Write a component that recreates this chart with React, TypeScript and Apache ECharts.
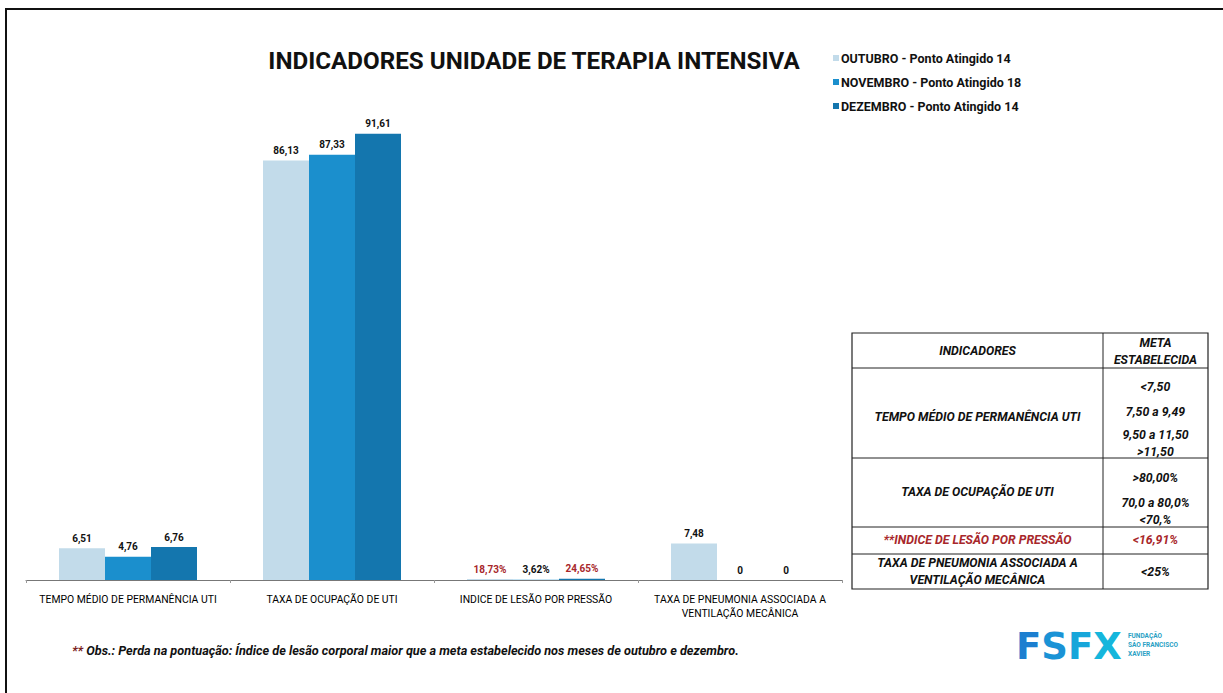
import React, { useEffect, useRef } from "react";
import * as echarts from "echarts";

const categories = [
  "TEMPO MÉDIO DE PERMANÊNCIA UTI",
  "TAXA DE OCUPAÇÃO DE UTI",
  "INDICE DE LESÃO POR PRESSÃO",
  "TAXA DE PNEUMONIA ASSOCIADA A\nVENTILAÇÃO MECÂNICA",
];
const seriesNames = [
  "OUTUBRO - Ponto Atingido 14",
  "NOVEMBRO - Ponto Atingido 18",
  "DEZEMBRO - Ponto Atingido 14",
];
// index 2 (pressure ulcer index) is a fraction shown as percent
const outubro = [6.51, 86.13, 0.1873, 7.48];
const novembro = [4.76, 87.33, 0.0362, 0];
const dezembro = [6.76, 91.61, 0.2465, 0];
const percentCategory = 2;
const redLabels = [[false, false, true, false], [false, false, false, false], [false, false, true, false]];

const tableRows = [
  { name: ["TEMPO MÉDIO DE PERMANÊNCIA UTI"], meta: ["<7,50", "7,50 a 9,49", "9,50 a 11,50", ">11,50"], red: false },
  { name: ["TAXA DE OCUPAÇÃO DE UTI"], meta: [">80,00%", "70,0 a 80,0%", "<70,%"], red: false },
  { name: ["**INDICE DE LESÃO POR PRESSÃO"], meta: ["<16,91%"], red: true },
  { name: ["TAXA DE PNEUMONIA ASSOCIADA A", "VENTILAÇÃO MECÂNICA"], meta: ["<25%"], red: false },
];

const colors = ["#c2dbea", "#1b8fcd", "#1476ae"];
const RED = "#a8272b";

function fmt(v: number, idx: number) {
  if (idx === percentCategory) return (v * 100).toFixed(2).replace(".", ",") + "%";
  if (v === 0) return "0";
  return v.toFixed(2).replace(".", ",");
}

export default function App() {
  const ref = useRef<HTMLDivElement>(null);
  useEffect(() => {
    document.body.style.margin = "0";
    const chart = echarts.init(ref.current!, null, { renderer: "svg" });
    const all = [outubro, novembro, dezembro];
    const series = all.map((arr, si) => ({
      name: seriesNames[si],
      type: "bar",
      barWidth: 46,
      barGap: "0%",
      itemStyle: { color: colors[si] },
      data: arr.map((v, i) => ({
        value: v,
        label: {
          color: redLabels[si][i] ? RED : "#111",
        },
      })),
      label: {
        show: true,
        position: "top",
        distance: 5,
        fontSize: 10,
        fontWeight: "bold",
        fontFamily: "Roboto",
        formatter: (p: any) => fmt(p.value, p.dataIndex),
      },
    }));

    const T = { x0: 852, x1: 1208, xm: 1103, ys: [333, 368, 458, 527, 554, 589] };
    const tf = "italic bold 12.3px Roboto";
    const gr: any[] = [];
    gr.push({ type: "line", shape: { x1: 5, y1: 9, x2: 1223, y2: 9 }, style: { stroke: "#111", lineWidth: 2 } });
    gr.push({ type: "line", shape: { x1: 6, y1: 8, x2: 6, y2: 693 }, style: { stroke: "#111", lineWidth: 2 } });
    gr.push({ type: "rect", shape: { x: T.x0, y: T.ys[0], width: T.x1 - T.x0, height: T.ys[5] - T.ys[0] }, style: { fill: "#fff", stroke: "#222", lineWidth: 1.2 } });
    gr.push({ type: "line", shape: { x1: T.xm, y1: T.ys[0], x2: T.xm, y2: T.ys[5] }, style: { stroke: "#222", lineWidth: 1 } });
    for (let i = 1; i < 5; i++) {
      gr.push({ type: "line", shape: { x1: T.x0, y1: T.ys[i], x2: T.x1, y2: T.ys[i] }, style: { stroke: "#222", lineWidth: 1 } });
    }
    const cL = (T.x0 + T.xm) / 2;
    const cR = (T.xm + T.x1) / 2;
    const txt = (x: number, y: number, s: string, color = "#111", font = tf) => ({
      type: "text", x, y, style: { text: s, font, fill: color, align: "center", verticalAlign: "middle" },
    });
    gr.push(txt(cL, 351, "INDICADORES"));
    gr.push(txt(cR, 343, "META"));
    gr.push(txt(cR, 360, "ESTABELECIDA"));
    const metaYs = [[387, 412, 435, 452], [478, 503, 520], [540], [572]];
    const nameYs = [[417], [492], [540], [563, 580]];
    tableRows.forEach((r, ri) => {
      const c = r.red ? RED : "#111";
      r.name.forEach((s, k) => gr.push(txt(cL, nameYs[ri][k], s, c)));
      r.meta.forEach((s, k) => gr.push(txt(cR, metaYs[ri][k], s, c)));
    });
    gr.push({
      type: "text", x: 72, y: 650,
      style: {
        text: "{r|**} Obs.: Perda na pontuação: Índice de lesão corporal maior que a meta estabelecido nos meses de outubro e dezembro.",
        font: "italic bold 12.7px Roboto", fill: "#111", align: "left", verticalAlign: "middle",
        rich: { r: { fill: "#7a1d20", font: "italic bold 12.7px Roboto" } },
      },
    });
    gr.push({
      type: "text", x: 1016, y: 646,
      style: {
        text: "{a|F}{b|S}{c|F}{d|X}", font: "bold 37px 'DejaVu Sans'", align: "left", verticalAlign: "middle",
        rich: {
          a: { fill: "#1c7fd0", font: "bold 37px 'DejaVu Sans'" },
          b: { fill: "#1a93d6", font: "bold 37px 'DejaVu Sans'" },
          c: { fill: "#17a6da", font: "bold 37px 'DejaVu Sans'" },
          d: { fill: "#15b6dc", font: "bold 37px 'DejaVu Sans'" },
        },
      },
    });
    ["FUNDAÇÃO", "SÃO FRANCISCO", "XAVIER"].forEach((s, i) => {
      gr.push({ type: "text", x: 1128, y: 636 + i * 9, style: { text: s, font: "bold 6.5px Roboto", fill: "#2a9fc4", align: "left", verticalAlign: "middle" } });
    });

    chart.setOption({
      animation: false,
      backgroundColor: "#fff",
      title: {
        text: "INDICADORES UNIDADE DE TERAPIA INTENSIVA",
        left: 529,
        textAlign: "center",
        top: 44,
        textStyle: { fontFamily: "Roboto", fontWeight: "bold", fontSize: 24.2, color: "#111" },
      },
      legend: {
        orient: "vertical",
        left: 828,
        top: 46,
        itemWidth: 6,
        itemHeight: 6,
        itemGap: 10,
        icon: "rect",
        textStyle: { fontFamily: "Roboto", fontWeight: "bold", fontSize: 12.5, color: "#111", lineHeight: 14, padding: [0, 0, 0, -3] },
        data: seriesNames,
      },
      grid: { left: 26, width: 816, top: 93, height: 487 },
      xAxis: {
        type: "category",
        data: categories,
        axisLine: { lineStyle: { color: "#777", width: 1 } },
        axisTick: { show: true, length: 3, lineStyle: { color: "#999" } },
        axisLabel: { interval: 0, fontFamily: "Roboto", fontSize: 10.4, color: "#000", margin: 12, lineHeight: 14 },
      },
      yAxis: { type: "value", min: 0, max: 100, show: false },
      series,
      graphic: gr,
    });
    return () => chart.dispose();
  }, []);
  return <div ref={ref} style={{ position: "absolute", left: 0, top: 0, width: 1223, height: 693 }} />;
}
